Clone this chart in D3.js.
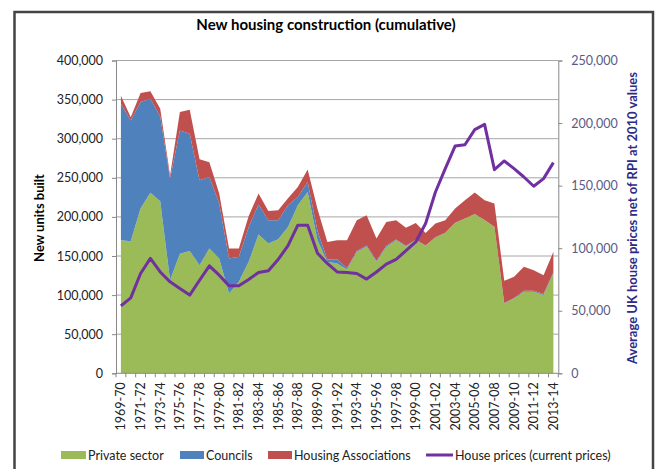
<!DOCTYPE html>
<html>
<head>
<meta charset="utf-8">
<script src="https://cdn.jsdelivr.net/npm/d3@7"></script>
<style>
  body { margin: 0; background: #fff; }
  text { font-family: Lato, "Open Sans", sans-serif; }
</style>
</head>
<body>
<div id="chart"></div>
<script>
// data (units built, by financial year)
var years = ["1969-70","1970-71","1971-72","1972-73","1973-74","1974-75","1975-76","1976-77","1977-78","1978-79",
  "1979-80","1980-81","1981-82","1982-83","1983-84","1984-85","1985-86","1986-87","1987-88","1988-89",
  "1989-90","1990-91","1991-92","1992-93","1993-94","1994-95","1995-96","1996-97","1997-98","1998-99",
  "1999-00","2000-01","2001-02","2002-03","2003-04","2004-05","2005-06","2006-07","2007-08","2008-09",
  "2009-10","2010-11","2011-12","2012-13","2013-14"];

var privateSector = [170200,168900,210700,231000,220000,119000,153000,156500,138300,159600,
  146800,102000,117000,142500,177500,166000,171500,187200,214900,231900,
  170000,142500,140400,132800,155000,162000,142500,161600,170200,162000,
  170200,163000,173600,179500,192300,197900,203400,195700,187200,89400,
  95800,104200,104200,100000,127700];

var councils = [174500,154500,136100,120000,108500,130000,157600,149900,108500,91400,
  70200,44800,31900,44700,38300,29700,24200,27700,10600,12700,
  12000,3000,5600,1500,1500,1500,1500,1500,1000,1000,
  500,500,300,300,300,200,200,200,300,400,
  500,1500,1500,1500,1500];

var housingAssoc = [10300,4000,11500,9800,9800,4000,23400,30600,26800,19000,
  12800,12800,10700,14000,14000,11900,12800,9000,12800,15900,
  28000,22500,24000,35700,39200,38500,28400,30500,24500,23000,
  21600,16000,17600,16000,18000,23200,27500,25400,29500,28500,
  27100,30400,26200,24000,26100];

var housePrices = [53900,60300,79800,91800,81000,73100,67800,62500,74400,85900,
  78400,69900,69900,75000,80600,81900,91000,102000,118400,118400,
  96000,87800,81000,80600,79800,75300,81000,87200,91000,98000,
  105000,119700,144900,163600,181600,182700,194700,198900,162800,169700,
  163600,156900,149500,155600,168400];

var leftTicks = [0,50000,100000,150000,200000,250000,300000,350000,400000];
var rightTicks = [0,50000,100000,150000,200000,250000];

var seriesNames = ["Private sector","Councils","Housing Associations"];
var colors = ["#9bbb59","#4f81bd","#c0504d"];
var lineColor = "#7030a0";

var W = 660, H = 469;
var margin = {top: 60.5, right: 101.7, bottom: 95.7, left: 116},
    width = W - margin.left - margin.right,
    height = H - margin.top - margin.bottom;

var svg = d3.select("#chart").append("svg")
    .attr("width", W).attr("height", H);

// outer frame
svg.append("rect")
  .attr("x", 14.5).attr("y", 12).attr("width", 638.5).attr("height", 470)
  .attr("fill", "none").attr("stroke", "#444").attr("stroke-width", 2.5);

svg.append("text")
  .attr("x", 326).attr("y", 30)
  .attr("text-anchor", "middle")
  .style("font-size", "15px").style("font-weight", "bold")
  .text("New housing construction (cumulative)");

var g = svg.append("g")
  .attr("transform", "translate(" + margin.left + "," + margin.top + ")");

var x = d3.scaleBand().domain(years).range([0, width]).padding(0);
var cx = function(d) { return x(d) + x.bandwidth() / 2; };
var y = d3.scaleLinear().domain([0, 400000]).range([height, 0]);
var y2 = d3.scaleLinear().domain([0, 250000]).range([height, 0]);

// grid
g.selectAll("line.grid")
  .data(leftTicks.slice(1))
  .enter().append("line")
  .attr("class", "grid")
  .attr("x1", 0).attr("x2", width)
  .attr("y1", d => y(d)).attr("y2", d => y(d))
  .attr("stroke", "#a6a6a6").attr("stroke-width", 1);

// stacked areas
var table = years.map(function(yr, i) {
  return {year: yr, "Private sector": privateSector[i], "Councils": councils[i],
          "Housing Associations": housingAssoc[i]};
});
var stack = d3.stack().keys(seriesNames)(table);

var area = d3.area()
  .x(d => cx(d.data.year))
  .y0(d => y(d[0]))
  .y1(d => y(d[1]));

g.selectAll("path.layer")
  .data(stack)
  .enter().append("path")
  .attr("class", "layer")
  .attr("d", area)
  .attr("fill", (d, i) => colors[i]);

// house price line
var line = d3.line()
  .x((d, i) => cx(years[i]))
  .y(d => y2(d));

g.append("path")
  .datum(housePrices)
  .attr("d", line)
  .attr("fill", "none")
  .attr("stroke", lineColor)
  .attr("stroke-width", 3)
  .attr("stroke-linejoin", "round");

// left axis
var yAxis = g.append("g")
  .call(d3.axisLeft(y).tickValues(leftTicks).tickFormat(d3.format(",")).tickSize(4).tickPadding(9));
yAxis.select(".domain").attr("stroke", "#888");
yAxis.selectAll(".tick line").attr("stroke", "#888");
yAxis.selectAll("text").style("font-size", "12.5px").attr("fill", "#222");

// right axis
var y2Axis = g.append("g")
  .attr("transform", "translate(" + width + ",0)")
  .call(d3.axisRight(y2).tickValues(rightTicks).tickFormat(d3.format(",")).tickSize(4).tickPadding(9));
y2Axis.select(".domain").attr("stroke", "#888");
y2Axis.selectAll(".tick line").attr("stroke", "#888");
y2Axis.selectAll("text").style("font-size", "12.5px").attr("fill", "#5a5a85");

// x axis
var xAxis = g.append("g")
  .attr("transform", "translate(0," + height + ")");
xAxis.append("line")
  .attr("x1", 0).attr("x2", width)
  .attr("stroke", "#888");
xAxis.selectAll("line.xt")
  .data(years.concat([null]))
  .enter().append("line")
  .attr("class", "xt")
  .attr("x1", (d, i) => i * x.bandwidth()).attr("x2", (d, i) => i * x.bandwidth())
  .attr("y1", 0).attr("y2", 4)
  .attr("stroke", "#888");
xAxis.selectAll("text")
  .data(years.filter((d, i) => i % 2 === 0))
  .enter().append("text")
  .attr("transform", d => "translate(" + (cx(d) + 4.5) + ",9) rotate(-90)")
  .attr("text-anchor", "end")
  .style("font-size", "12.5px")
  .attr("fill", "#222")
  .text(d => d);

// axis titles
svg.append("text")
  .attr("transform", "translate(44,218) rotate(-90)")
  .attr("text-anchor", "middle")
  .style("font-size", "13px").style("font-weight", "bold")
  .text("New units built");

svg.append("text")
  .attr("transform", "translate(637,218) rotate(-90)")
  .attr("text-anchor", "middle")
  .style("font-size", "13px").style("font-weight", "bold")
  .attr("fill", "#2e2a85")
  .text("Average UK house prices net of RPI at 2010 values");

// legend
var legendItems = [
  {name: "Private sector", color: colors[0], x: 61, w: 25, type: "rect"},
  {name: "Councils", color: colors[1], x: 180, w: 24, type: "rect"},
  {name: "Housing Associations", color: colors[2], x: 268, w: 24, type: "rect"},
  {name: "House prices (current prices)", color: lineColor, x: 426, w: 27, type: "line"}
];
var leg = svg.append("g").attr("transform", "translate(0,455)");
legendItems.forEach(function(it) {
  if (it.type === "rect") {
    leg.append("rect").attr("x", it.x).attr("y", -4).attr("width", it.w).attr("height", 8).attr("fill", it.color);
  } else {
    leg.append("line").attr("x1", it.x).attr("x2", it.x + it.w).attr("y1", 0).attr("y2", 0)
      .attr("stroke", it.color).attr("stroke-width", 3);
  }
  leg.append("text").attr("x", it.x + it.w + 2).attr("y", 4.5)
    .style("font-size", "12.5px").attr("fill", "#222").text(it.name);
});
</script>
</body>
</html>
